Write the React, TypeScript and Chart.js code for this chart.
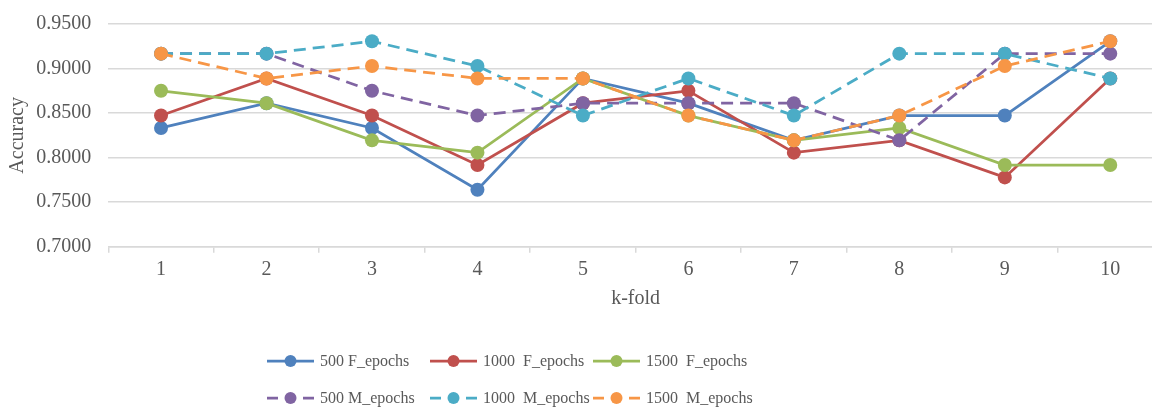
import React, { useEffect, useRef } from "react";
import { Chart, registerables } from "chart.js";

Chart.register(...registerables);

const categories = ["1", "2", "3", "4", "5", "6", "7", "8", "9", "10"];
const seriesNames = [
  "500 F_epochs",
  "1000  F_epochs",
  "1500  F_epochs",
  "500 M_epochs",
  "1000  M_epochs",
  "1500  M_epochs",
];
const f500 = [0.8333, 0.8611, 0.8333, 0.7639, 0.8889, 0.8611, 0.8194, 0.8472, 0.8472, 0.9306];
const f1000 = [0.8472, 0.8889, 0.8472, 0.7917, 0.8611, 0.875, 0.8056, 0.8194, 0.7778, 0.8889];
const f1500 = [0.875, 0.8611, 0.8194, 0.8056, 0.8889, 0.8472, 0.8194, 0.8333, 0.7917, 0.7917];
const m500 = [0.9167, 0.9167, 0.875, 0.8472, 0.8611, 0.8611, 0.8611, 0.8194, 0.9167, 0.9167];
const m1000 = [0.9167, 0.9167, 0.9306, 0.9028, 0.8472, 0.8889, 0.8472, 0.9167, 0.9167, 0.8889];
const m1500 = [0.9167, 0.8889, 0.9028, 0.8889, 0.8889, 0.8472, 0.8194, 0.8472, 0.9028, 0.9306];
const seriesValues = [f500, f1000, f1500, m500, m1000, m1500];
const seriesColors = ["#4F81BD", "#C0504D", "#9BBB59", "#8064A2", "#4BACC6", "#F79646"];
const seriesDashed = [false, false, false, true, true, true];
const yMin = 0.7;
const yMax = 0.95;
const yStep = 0.05;
const xTitle = "k-fold";
const yTitle = "Accuracy";

const SERIF = "'Liberation Serif', 'Times New Roman', serif";
const TEXT = "#595959";
const GRID = "#D9D9D9";
const DASH = [12, 7];

const W = 1175;
const H = 408;

const legendPlugin = {
  id: "excelLegend",
  afterDraw(chart: any) {
    const ctx = chart.ctx;
    const colX = [267, 430, 593];
    const rowY = [361, 398];
    ctx.save();
    chart.data.datasets.forEach((ds: any, i: number) => {
      const col = i % 3;
      const row = Math.floor(i / 3);
      const x = colX[col];
      const y = rowY[row];
      const len = 47;
      ctx.strokeStyle = ds.borderColor;
      ctx.lineWidth = 2.75;
      ctx.setLineDash(seriesDashed[i] ? [11, 7] : []);
      ctx.beginPath();
      ctx.moveTo(x, y);
      ctx.lineTo(x + len, y);
      ctx.stroke();
      ctx.setLineDash([]);
      ctx.fillStyle = ds.backgroundColor;
      ctx.beginPath();
      ctx.arc(x + len / 2, y, 6, 0, Math.PI * 2);
      ctx.fill();
      ctx.fillStyle = TEXT;
      ctx.font = `16px ${SERIF}`;
      ctx.textBaseline = "middle";
      ctx.textAlign = "left";
      ctx.fillText(seriesNames[i], x + len + 6, y + 1);
    });
    ctx.restore();
  },
};

export default function App() {
  const ref = useRef<HTMLCanvasElement | null>(null);
  useEffect(() => {
    if (!ref.current) return;
    const chart = new Chart(ref.current, {
      type: "line",
      data: {
        labels: categories,
        datasets: seriesValues.map((vals, i) => ({
          label: seriesNames[i],
          data: vals,
          borderColor: seriesColors[i],
          backgroundColor: seriesColors[i],
          pointBackgroundColor: seriesColors[i],
          pointBorderColor: seriesColors[i],
          borderWidth: 2.75,
          borderDash: seriesDashed[i] ? DASH : [],
          pointRadius: 7,
          pointBorderWidth: 0,
          tension: 0,
          order: seriesValues.length - i,
        })),
      },
      options: {
        responsive: false,
        animation: false,
        layout: { padding: { top: 24, left: 0, right: W - 1163, bottom: H - 246.7 - 72 } },
        plugins: { legend: { display: false }, tooltip: { enabled: false } },
        scales: {
          x: {
            offset: true,
            grid: {
              offset: true,
              drawOnChartArea: false,
              drawTicks: true,
              tickLength: 6,
              color: GRID,
              lineWidth: 1.5,
            },
            border: { display: true, color: GRID, width: 1.5 },
            ticks: { color: TEXT, font: { family: SERIF, size: 20 }, padding: 5 },
            title: {
              display: true,
              text: xTitle,
              color: TEXT,
              font: { family: SERIF, size: 20 },
              padding: { top: 0, bottom: 8 },
            },
            afterFit(scale: any) {
              scale.height = 72;
            },
          },
          y: {
            min: yMin,
            max: yMax,
            ticks: {
              stepSize: yStep,
              color: TEXT,
              font: { family: SERIF, size: 20 },
              padding: 0,
              callback: (v: any) => Number(v).toFixed(4),
            },
            grid: {
              color: GRID,
              lineWidth: 1.5,
              drawTicks: true,
              tickLength: 17,
              tickColor: "rgba(0,0,0,0)",
            },
            border: { display: false },
            title: {
              display: true,
              text: yTitle,
              color: TEXT,
              font: { family: SERIF, size: 20 },
              padding: { top: 6, bottom: 0 },
            },
            afterFit(scale: any) {
              scale.width = 108.3;
            },
          },
        },
      },
      plugins: [legendPlugin],
    } as any);
    return () => chart.destroy();
  }, []);
  return (
    <div style={{ position: "fixed", left: 0, top: 0, width: 1152, height: H, overflow: "hidden", background: "#fff" }}>
      <canvas ref={ref} width={W} height={H} style={{ width: W, height: H, display: "block" }} />
    </div>
  );
}
